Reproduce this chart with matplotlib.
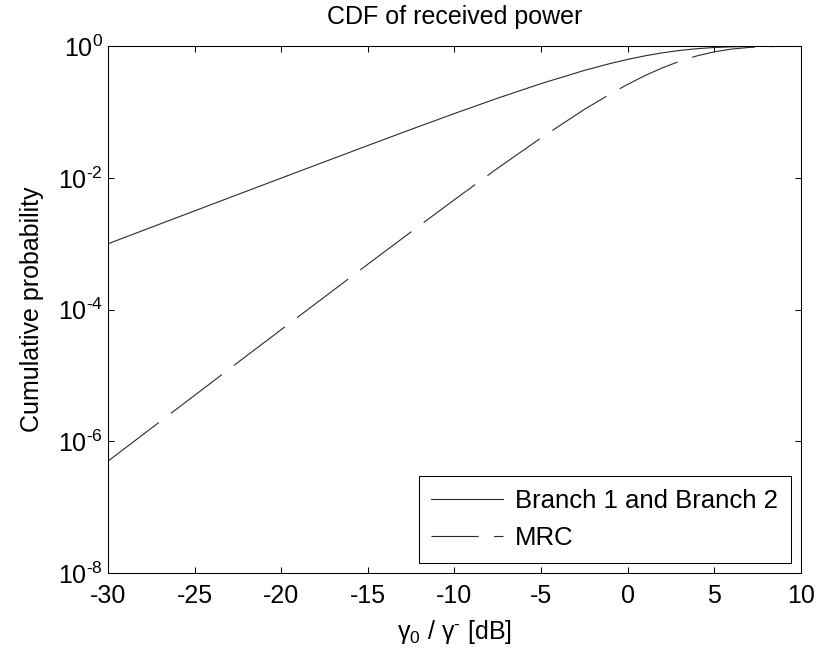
import matplotlib
matplotlib.use("Agg")
import matplotlib.pyplot as plt
from matplotlib.lines import Line2D
from matplotlib.ticker import FixedLocator, FuncFormatter, NullLocator
import numpy as np

plt.rcParams['font.family'] = ['Liberation Sans', 'DejaVu Sans']
plt.rcParams['mathtext.fontset'] = 'custom'
plt.rcParams['mathtext.rm'] = 'Liberation Sans'
plt.rcParams['mathtext.it'] = 'Liberation Sans:italic'
plt.rcParams['lines.scale_dashes'] = False

# values (x in dB, y = cumulative probability)
snr_db = [-30, -27.5, -25, -22.5, -20, -17.5, -15, -12.5, -10, -7.5, -5, -2.5,
          -1, 0, 1, 2, 3, 4, 5, 6, 7, 8, 9, 10]
branch_cdf = [1.0e-3, 1.78e-3, 3.16e-3, 5.61e-3, 9.95e-3, 1.76e-2, 3.11e-2, 5.47e-2,
              0.0952, 0.163, 0.271, 0.430, 0.548, 0.632, 0.716, 0.795, 0.864,
              0.919, 0.958, 0.981, 0.9933, 0.9982, 0.99965, 0.99995]
mrc_cdf = [5.0e-7, 1.58e-6, 4.99e-6, 1.58e-5, 4.97e-5, 1.56e-4, 4.90e-4, 1.52e-3,
           4.68e-3, 1.41e-2, 4.06e-2, 0.110, 0.189, 0.264, 0.359, 0.470, 0.593,
           0.715, 0.824, 0.907, 0.960, 0.987, 0.9968, 0.9995]

x_ticks = [-30, -25, -20, -15, -10, -5, 0, 5, 10]
y_ticks = [1e-8, 1e-6, 1e-4, 1e-2, 1e0]
fs = 18
line_col = '#2b2b2b'


def pow10_label(v, pos):
    e = int(round(np.log10(v)))
    if e < 0:
        return r'$\mathregular{10^{\text{-}%d}}$' % (-e)
    return r'$\mathregular{10^{%d}}$' % e


fig = plt.figure(figsize=(8.30, 6.61), dpi=100)
ax = fig.add_axes([0.130, 0.133, 0.835, 0.797])

ax.semilogy(snr_db, branch_cdf, color=line_col, lw=0.8)
ax.semilogy(snr_db, mrc_cdf, color=line_col, lw=0.8, dashes=(46, 11))

ax.set_xlim(-30, 10)
ax.set_ylim(1e-8, 1)
ax.xaxis.set_major_locator(FixedLocator(x_ticks))
ax.yaxis.set_major_locator(FixedLocator(y_ticks))
ax.yaxis.set_minor_locator(NullLocator())
ax.yaxis.set_major_formatter(FuncFormatter(pow10_label))
ax.set_xticklabels([str(t) for t in x_ticks])

ax.tick_params(axis='x', pad=8)
ax.tick_params(which='both', direction='in', top=True, right=True, length=4.5,
               width=0.75, labelsize=fs)
for s in ax.spines.values():
    s.set_linewidth(0.75)

ax.set_title('CDF of received power', fontsize=fs, pad=16)
ax.set_xlabel(r'$\mathrm{γ_0}$ / $\mathrm{γ^{\text{-}}}$ [dB]', fontsize=fs, labelpad=7)
ax.set_ylabel('Cumulative probability', fontsize=fs, labelpad=10)

# legend handles: MRC key shows long dash + short piece like the reference
handles = [Line2D([], [], color=line_col, lw=0.8),
           Line2D([], [], color=line_col, lw=0.8, dashes=(34, 11))]
leg = ax.legend(handles, ['Branch 1 and Branch 2', 'MRC'], loc='lower right',
                fontsize=18.5, fancybox=False, framealpha=1, edgecolor='black',
                handlelength=2.8, handletextpad=0.45, borderaxespad=0.4,
                labelspacing=0.5, borderpad=0.5)
leg.get_frame().set_linewidth(0.75)

fig.savefig('out.png', dpi=100)
